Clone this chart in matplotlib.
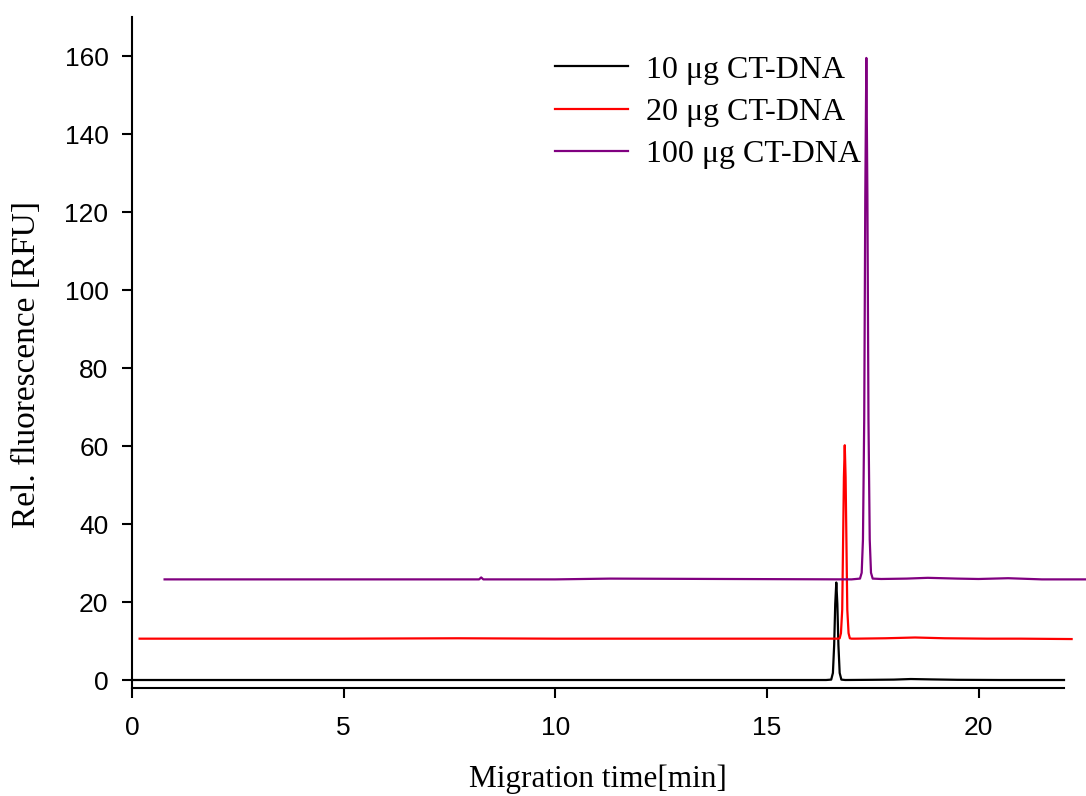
import matplotlib
matplotlib.use("Agg")
import matplotlib.pyplot as plt

# ---- data (migration time [min], RFU) ----
black_t = [0.0, 5.0, 10.0, 15.0, 16.40, 16.52, 16.56, 16.59, 16.615, 16.64, 16.665,
           16.69, 16.72, 16.76, 16.85, 17.5, 18.0, 18.4, 18.9, 19.5, 20.5, 21.5, 22.02]
black_y = [0.0, 0.0, 0.0, 0.0, 0.0, 0.1, 1.8, 9.0, 19.5, 25.0, 19.5,
           9.0, 1.8, 0.1, 0.0, 0.05, 0.1, 0.25, 0.15, 0.05, 0.0, 0.0, 0.0]

red_t = [0.18, 5.0, 7.7, 10.0, 15.0, 16.68, 16.72, 16.75, 16.78, 16.80, 16.82, 16.84,
         16.86, 16.88, 16.90, 16.93, 16.96, 17.0, 17.1, 17.8, 18.5, 19.2, 20.2, 21.0, 22.2]
red_y = [10.6, 10.6, 10.7, 10.6, 10.6, 10.6, 10.7, 12.0, 18.0, 35.0, 52.0, 60.2,
         52.0, 35.0, 18.0, 12.0, 10.7, 10.6, 10.6, 10.7, 10.9, 10.7, 10.6, 10.6, 10.5]

purple_t = [0.77, 5.0, 8.2, 8.25, 8.3, 10.0, 11.3, 14.0, 17.0, 17.20, 17.24, 17.27,
            17.30, 17.325, 17.35, 17.375, 17.40, 17.43, 17.46, 17.50, 17.7, 18.3,
            18.8, 19.5, 20.0, 20.7, 21.5, 22.55]
purple_y = [25.8, 25.8, 25.8, 26.3, 25.8, 25.8, 26.0, 25.9, 25.8, 26.0, 27.5, 36.0,
            67.0, 124.0, 159.5, 124.0, 67.0, 36.0, 27.5, 26.0, 25.9, 26.0,
            26.2, 26.0, 25.9, 26.1, 25.8, 25.8]

labels = ["10 \u03bcg CT-DNA", "20 \u03bcg CT-DNA", "100 \u03bcg CT-DNA"]
colors = ["black", "red", "purple"]

x_ticks = [0, 5, 10, 15, 20]
y_ticks = [0, 20, 40, 60, 80, 100, 120, 140, 160]

fig = plt.figure(figsize=(10.86, 7.96), dpi=100)
ax = fig.add_axes([132 / 1086, 1 - 688 / 796, (1064 - 132) / 1086, (688 - 17) / 796])

for t, y, c, lab in zip([black_t, red_t, purple_t], [black_y, red_y, purple_y], colors, labels):
    ax.plot(t, y, color=c, lw=1.6, label=lab, clip_on=False)

ax.set_xlim(0, 22.02)
ax.set_ylim(-2.05, 170)
ax.set_xticks(x_ticks)
ax.set_yticks(y_ticks)

for s in ["top", "right"]:
    ax.spines[s].set_visible(False)
for s in ["left", "bottom"]:
    ax.spines[s].set_linewidth(1.5)

ax.tick_params(axis="both", direction="out", length=7, width=1.5, labelsize=19)
ax.tick_params(axis="y", pad=10)
ax.tick_params(axis="x", pad=13)
for lbl in ax.get_xticklabels() + ax.get_yticklabels():
    lbl.set_family(["Liberation Sans", "DejaVu Sans"])

serif = ["Liberation Serif", "DejaVu Serif"]
ax.set_xlabel("Migration time[min]", fontsize=22.5, family=serif, labelpad=18)
ax.set_ylabel("Rel. fluorescence [RFU]", fontsize=24, family=serif)
ax.yaxis.set_label_coords(-0.097, 0.482)

leg = ax.legend(loc="upper left", bbox_to_anchor=(0.44, 0.962), frameon=False,
                prop={"family": serif, "size": 23}, handlelength=2.3,
                handletextpad=0.55, labelspacing=0.40, borderaxespad=0)

fig.savefig("out.png", dpi=100)
